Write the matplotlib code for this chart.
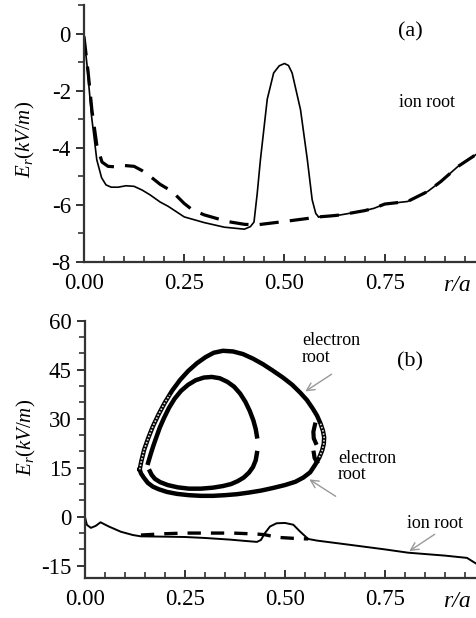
import matplotlib
matplotlib.use("Agg")
import matplotlib.pyplot as plt
from matplotlib.ticker import MultipleLocator, FormatStrFormatter

plt.rcParams['font.family'] = 'Liberation Serif'
plt.rcParams['mathtext.fontset'] = 'custom'
plt.rcParams['mathtext.it'] = 'Liberation Serif:italic'
plt.rcParams['mathtext.rm'] = 'Liberation Serif'
plt.rcParams['axes.unicode_minus'] = False

# ---- panel (a) ----
a_solid_r = [0, 0.008, 0.019, 0.032, 0.044, 0.055, 0.068, 0.085, 0.105, 0.125, 0.145,
             0.165, 0.19, 0.21, 0.25, 0.3, 0.35, 0.4, 0.415, 0.424, 0.432, 0.44, 0.457,
             0.473, 0.487, 0.5, 0.51, 0.519, 0.54, 0.557, 0.569, 0.578, 0.585]
a_solid_E = [-0.1, -1.15, -2.9, -4.42, -5.05, -5.3, -5.38, -5.38, -5.33, -5.35, -5.48,
             -5.65, -5.9, -6.05, -6.42, -6.62, -6.78, -6.85, -6.76, -6.6, -5.6, -4.42, -2.3,
             -1.38, -1.13, -1.05, -1.12, -1.38, -2.67, -4.42, -5.82, -6.3, -6.42]
a_dash_r = [0, 0.01, 0.02, 0.032, 0.045, 0.06, 0.08, 0.1, 0.125, 0.145, 0.165, 0.19,
            0.22, 0.25, 0.27, 0.3, 0.357, 0.4, 0.43, 0.5, 0.56, 0.585]
a_dash_E = [-0.1, -1.3, -2.7, -3.9, -4.5, -4.65, -4.67, -4.62, -4.65, -4.8, -5.0, -5.28,
            -5.53, -5.95, -6.17, -6.35, -6.58, -6.68, -6.7, -6.58, -6.47, -6.42]
a_tail_r = [0.585, 0.62, 0.64, 0.7, 0.723, 0.75, 0.807, 0.857, 0.89, 0.932, 0.9825]
a_tail_E = [-6.42, -6.38, -6.35, -6.2, -6.12, -5.97, -5.88, -5.53, -5.18, -4.66, -4.19]

# ---- panel (b) ----
b_solid_r = [0, 0.005, 0.015, 0.027, 0.039, 0.06, 0.09, 0.12, 0.14, 0.2, 0.25, 0.3,
             0.3625, 0.4, 0.43, 0.44, 0.45, 0.4625, 0.479, 0.5, 0.521, 0.5375, 0.558, 0.58,
             0.6625, 0.75, 0.8075, 0.9, 0.955, 0.9825]
b_solid_E = [0, -2.5, -3.4, -2.8, -1.7, -3.0, -4.6, -5.6, -6.0, -6.1, -6.2, -6.5,
             -7.0, -7.4, -7.7, -7.1, -5.0, -3.0, -2.0, -1.9, -2.45, -4.5, -6.8, -7.3,
             -8.6, -10.0, -11.0, -11.9, -12.6, -14.7]
b_dash_r = [0.14, 0.2, 0.25, 0.3, 0.37, 0.39, 0.43, 0.45, 0.48, 0.52, 0.558]
b_dash_E = [-5.6, -5.2, -5.0, -5.0, -5.0, -5.1, -5.3, -5.5, -6.3, -6.6, -6.8]

outer_r = [0.137, 0.141, 0.148, 0.158, 0.170, 0.184, 0.2, 0.218, 0.238, 0.258, 0.28,
           0.302, 0.322, 0.345, 0.37, 0.395, 0.42, 0.445, 0.47, 0.495, 0.518, 0.538,
           0.555, 0.569, 0.58, 0.589, 0.595, 0.598, 0.597, 0.593, 0.586, 0.576, 0.563,
           0.546, 0.526, 0.5, 0.47, 0.44, 0.41, 0.38, 0.35, 0.32, 0.29, 0.26, 0.23,
           0.205, 0.185, 0.17, 0.157, 0.147, 0.14, 0.137]
outer_E = [14.5, 17.0, 20.5, 24.0, 27.7, 31.3, 35.0, 38.6, 41.9, 44.6, 47.0,
           48.9, 50.2, 50.8, 50.6, 49.8, 48.4, 46.7, 44.7, 42.6, 40.4, 38.0,
           35.7, 33.2, 31.0, 28.5, 26.3, 24.3, 22.3, 20.3, 18.2, 16.0, 13.6,
           12.0, 10.7, 9.7, 8.8, 8.0, 7.4, 6.9, 6.6, 6.4, 6.4, 6.6, 7.0,
           7.6, 8.4, 9.2, 10.4, 12.0, 13.3, 14.5]
hollow1_r = [0.137, 0.141, 0.148, 0.158, 0.170, 0.184, 0.2, 0.212]
hollow1_E = [14.5, 17.0, 20.5, 24.0, 27.7, 31.3, 35.0, 37.3]
hollow2_r = [0.589, 0.595, 0.598, 0.597, 0.593, 0.586]
hollow2_E = [28.5, 26.3, 24.3, 22.3, 20.3, 18.2]

inner_up_r = [0.158, 0.164, 0.171, 0.179, 0.1875, 0.198, 0.21, 0.224, 0.24, 0.258,
              0.277, 0.297, 0.317, 0.337, 0.356, 0.373, 0.388, 0.401, 0.412, 0.421,
              0.427, 0.43]
inner_up_E = [16.5, 19.0, 21.7, 24.5, 27.4, 30.3, 33.3, 36.1, 38.5, 40.4,
              41.8, 42.6, 42.8, 42.4, 41.3, 39.8, 37.7, 35.2, 32.4, 29.5,
              26.8, 24.6]
inner_lo_r = [0.43, 0.427, 0.42, 0.41, 0.397, 0.382, 0.365, 0.345, 0.32, 0.29, 0.26,
              0.232, 0.207, 0.188, 0.175, 0.167, 0.1625]
inner_lo_E = [19.5, 17.3, 15.2, 13.5, 12.0, 10.9, 10.0, 9.4, 8.9, 8.6, 8.6,
              9.0, 9.7, 10.6, 11.6, 12.8, 13.9]
side1_r = [0.575, 0.571, 0.572, 0.577]
side1_E = [28.2, 26.0, 24.0, 22.6]
side2_r = [0.572, 0.574, 0.58]
side2_E = [19.6, 18.0, 16.8]

fig = plt.figure(figsize=(4.77, 6.18), dpi=100)
ax1 = fig.add_axes([0.176, 0.576, 0.824, 0.416])
ax2 = fig.add_axes([0.178, 0.065, 0.822, 0.416])

for ax in (ax1, ax2):
    for s in ('top', 'right'):
        ax.spines[s].set_visible(False)
    for s in ('left', 'bottom'):
        ax.spines[s].set_linewidth(1.6)
        ax.spines[s].set_color('#333333')
    ax.set_xlim(0, 0.98)
    ax.xaxis.set_major_locator(MultipleLocator(0.25))
    ax.xaxis.set_minor_locator(MultipleLocator(0.05))
    ax.xaxis.set_major_formatter(FormatStrFormatter('%.2f'))
    ax.tick_params(axis='x', which='both', direction='in', labelsize=16.5, color='#333333', pad=8)
    ax.tick_params(axis='x', which='major', length=6, width=1.4)
    ax.tick_params(axis='x', which='minor', length=4, width=1.2)
    ax.tick_params(axis='y', which='both', direction='out', labelsize=16.5, color='#333333')
    ax.tick_params(axis='y', which='major', length=6, width=1.4)
    ax.tick_params(axis='y', which='minor', length=4, width=1.2)

# panel (a)
ax1.set_ylim(-8, 1)
ax1.yaxis.set_major_locator(MultipleLocator(2))
ax1.yaxis.set_minor_locator(MultipleLocator(1))
ax1.plot(a_solid_r, a_solid_E, color='black', lw=1.2)
ax1.plot(a_tail_r, a_tail_E, color='black', lw=1.2)
ax1.plot(a_dash_r + a_tail_r[1:], a_dash_E + a_tail_E[1:], color='black', lw=2.3,
         dashes=(6, 3.5))
ax1.text(0.815, 0.07, '(a)', fontsize=16, ha='center', va='center')
ax1.text(0.785, -2.42, 'ion root', fontsize=13, ha='left', va='center')
ax1.text(0.95, -0.09, 'r/a', style='italic', fontsize=17, ha='center', va='center',
         transform=ax1.transAxes)
ax1.text(-0.148, 0.475, r'$E_r(kV/m)$', rotation=90, fontsize=15, ha='center', va='center',
         transform=ax1.transAxes)

# panel (b)
ax2.set_ylim(-18.7, 60)
ax2.yaxis.set_major_locator(MultipleLocator(15))
ax2.yaxis.set_minor_locator(MultipleLocator(5))
ax2.plot(b_solid_r, b_solid_E, color='black', lw=1.4, solid_joinstyle='round')
ax2.plot(b_dash_r, b_dash_E, color='black', lw=2.4, dashes=(4, 3))
ax2.plot(outer_r, outer_E, color='black', lw=3.2, solid_joinstyle='round')
ax2.plot(hollow1_r, hollow1_E, color='#dddddd', lw=1.2, dashes=(1, 1))
ax2.plot(hollow2_r, hollow2_E, color='#dddddd', lw=1.2, dashes=(1, 1))
ax2.plot(inner_up_r, inner_up_E, color='black', lw=3.2, solid_joinstyle='round')
ax2.plot(inner_lo_r, inner_lo_E, color='black', lw=3.2, solid_joinstyle='round')
ax2.plot(side1_r, side1_E, color='black', lw=3.0)
ax2.plot(side2_r, side2_E, color='black', lw=3.0)

arrow = dict(arrowstyle='->', color='#999999', lw=1.0, mutation_scale=14)
ax2.annotate('electron\nroot', xy=(0.545, 37.9), xytext=(0.5425, 51.4), fontsize=13,
             ha='left', va='center', linespacing=0.95)
ax2.annotate('', xy=(0.545, 37.9), xytext=(0.6225, 44.1), arrowprops=arrow)
ax2.annotate('electron\nroot', xy=(0.555, 11.9), xytext=(0.6325, 15.3), fontsize=13,
             ha='left', va='center', linespacing=0.95)
ax2.annotate('', xy=(0.555, 11.9), xytext=(0.6325, 5.8), arrowprops=arrow)
ax2.annotate('ion root', xy=(0.805, -11.0), xytext=(0.805, -2.1), fontsize=13,
             ha='left', va='center')
ax2.annotate('', xy=(0.805, -11.0), xytext=(0.88, -4.9), arrowprops=arrow)
ax2.text(0.8125, 47.4, '(b)', fontsize=16, ha='center', va='center')
ax2.text(0.95, -0.093, 'r/a', style='italic', fontsize=17, ha='center', va='center',
         transform=ax2.transAxes)
ax2.text(-0.148, 0.545, r'$E_r(kV/m)$', rotation=90, fontsize=15, ha='center', va='center',
         transform=ax2.transAxes)

fig.savefig('out.png', dpi=100)
